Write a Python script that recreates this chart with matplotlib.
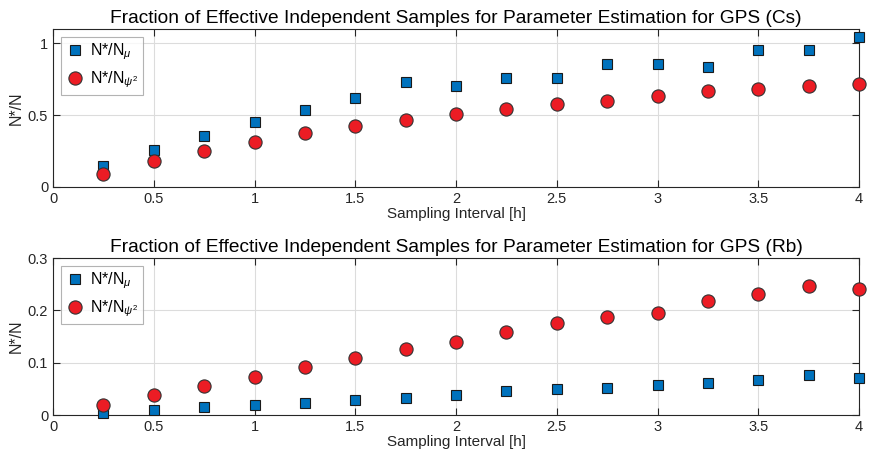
import numpy as np
import matplotlib
matplotlib.use("Agg")
import matplotlib.pyplot as plt

plt.rcParams['font.family'] = ['Liberation Sans', 'DejaVu Sans']
plt.rcParams['mathtext.fontset'] = 'custom'
plt.rcParams['mathtext.rm'] = 'Liberation Sans'
plt.rcParams['mathtext.it'] = 'Liberation Sans:italic'

# sampling interval [h]
interval = [0.25, 0.5, 0.75, 1.0, 1.25, 1.5, 1.75, 2.0, 2.25, 2.5, 2.75, 3.0, 3.25, 3.5, 3.75, 4.0]

# GPS (Cs)
cs_mu = [0.146, 0.261, 0.357, 0.450, 0.535, 0.623, 0.733, 0.704, 0.757, 0.757, 0.853, 0.857, 0.836, 0.956, 0.951, 1.047]
cs_psi2 = [0.093, 0.181, 0.254, 0.314, 0.378, 0.427, 0.469, 0.507, 0.542, 0.581, 0.598, 0.637, 0.670, 0.679, 0.703, 0.719]

# GPS (Rb)
rb_mu = [0.0045, 0.0096, 0.0147, 0.0186, 0.0237, 0.0295, 0.0327, 0.0385, 0.0455, 0.0506, 0.052, 0.057, 0.0615, 0.0667, 0.0763, 0.0712]
rb_psi2 = [0.019, 0.038, 0.056, 0.073, 0.0917, 0.1096, 0.126, 0.139, 0.158, 0.176, 0.1865, 0.194, 0.2186, 0.231, 0.247, 0.241]

panels = [
    ("Cs", cs_mu, cs_psi2, (0, 1.1), [0, 0.5, 1], ["0", "0.5", "1"]),
    ("Rb", rb_mu, rb_psi2, (0, 0.3), [0, 0.1, 0.2, 0.3], ["0", "0.1", "0.2", "0.3"]),
]

W, H = 872, 465
fig = plt.figure(figsize=(W / 100, H / 100), dpi=100)
boxes = [(53, 29, 859, 187), (53, 258, 859, 415)]

for (name, mu, psi2, ylim, yt, ytl), (x0, y0, x1, y1) in zip(panels, boxes):
    ax = fig.add_axes([x0 / W, 1 - y1 / H, (x1 - x0) / W, (y1 - y0) / H])
    ax.plot(interval, mu, 's', ms=7.2, mfc='#0072BD', mec='#1a1a1a', mew=0.8,
            label=r'N*/N$_{\mu}$', zorder=3, clip_on=False)
    ax.plot(interval, psi2, 'o', ms=9.5, mfc='#EC1C24', mec='#333333', mew=0.8,
            label=r'N*/N$_{\psi^2}$', zorder=3, clip_on=False)
    ax.set_xlim(0, 4)
    ax.set_ylim(*ylim)
    ax.set_xticks([0, 0.5, 1, 1.5, 2, 2.5, 3, 3.5, 4])
    ax.set_xticklabels(["0", "0.5", "1", "1.5", "2", "2.5", "3", "3.5", "4"])
    ax.set_yticks(yt)
    ax.set_yticklabels(ytl)
    ax.grid(True, color='#dcdcdc', lw=0.8)
    ax.set_axisbelow(True)
    ax.tick_params(direction='in', top=True, right=True, labelsize=10.5,
                   length=5, width=0.8, colors='#262626')
    for s in ax.spines.values():
        s.set_color('#262626')
        s.set_linewidth(0.8)
    ax.set_xlabel('Sampling Interval [h]', fontsize=11, color='#262626', labelpad=1)
    ax.set_ylabel('N*/N', fontsize=11.5, color='#262626', labelpad=3)
    ax.set_title('Fraction of Effective Independent Samples for Parameter Estimation for GPS (%s)' % name,
                 fontsize=13.8, color='black', pad=4)
    leg = ax.legend(loc='upper left', fontsize=11.5, frameon=True, fancybox=False,
                    edgecolor='#a0a0a0', handletextpad=0.3, borderpad=0.3,
                    labelspacing=0.45, handlelength=1.2, borderaxespad=0.5)
    leg.get_frame().set_linewidth(0.8)

fig.savefig('out.png', dpi=100)
